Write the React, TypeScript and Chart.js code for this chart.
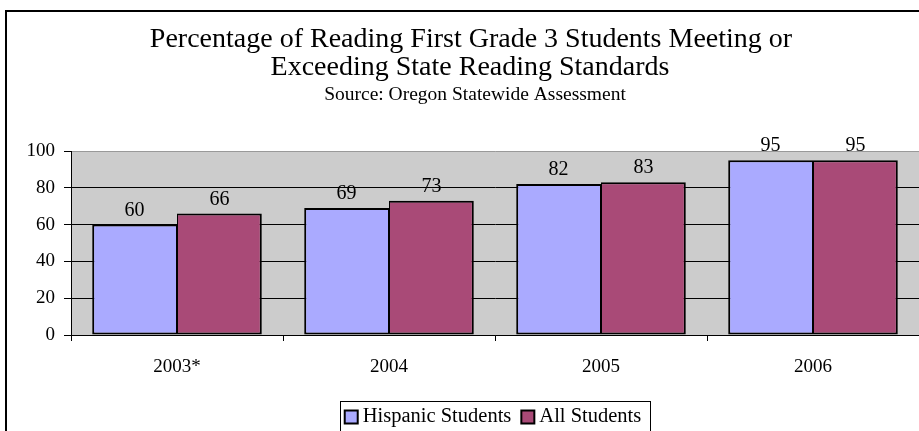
import React, { useEffect, useRef } from "react";
import { Chart, registerables } from "chart.js";

Chart.register(...registerables);

const categories = ["2003*", "2004", "2005", "2006"];
const hispanicValues = [60, 69, 82, 95];
const allValues = [66, 73, 83, 95];
const seriesLabels = ["Hispanic Students", "All Students"];
const titleLines = [
  "Percentage of Reading First Grade 3 Students Meeting or",
  "Exceeding State Reading Standards",
];
const subtitle = "Source: Oregon Statewide Assessment";

const SERIF = '"Liberation Serif", "Times New Roman", serif';
const COLORS = ["#aaaaff", "#a94a77"];

export default function App() {
  const ref = useRef<HTMLCanvasElement>(null);
  useEffect(() => {
    document.body.style.margin = "0";
    const canvas = ref.current!;
    const framePlugin = {
      id: "frame",
      beforeDraw(chart: any) {
        const { ctx, chartArea } = chart;
        ctx.save();
        ctx.fillStyle = "#ffffff";
        ctx.fillRect(0, 0, chart.width, chart.height);
        ctx.fillStyle = "#cccccc";
        ctx.fillRect(chartArea.left, chartArea.top, chartArea.right - chartArea.left, chartArea.bottom - chartArea.top);
        ctx.strokeStyle = "#000";
        ctx.lineWidth = 2;
        ctx.strokeRect(6, 11, chart.width + 20, chart.height + 20);
        ctx.restore();
      },
      afterDraw(chart: any) {
        const { ctx } = chart;
        ctx.save();
        ctx.fillStyle = "#000";
        ctx.textAlign = "center";
        ctx.textBaseline = "middle";
        ctx.font = `28px ${SERIF}`;
        ctx.fillText(titleLines[0], 471, 40);
        ctx.fillText(titleLines[1], 470, 68);
        ctx.font = `19.5px ${SERIF}`;
        ctx.fillText(subtitle, 475, 95);

        // legend
        ctx.font = `20.5px ${SERIF}`;
        const sq = 13;
        const gapSq = 5;
        const gapItem = 10;
        const padL = 5;
        const padR = 8;
        const widths = seriesLabels.map((l) => ctx.measureText(l).width);
        const total = padL + padR + widths.reduce((a, w) => a + sq + gapSq + w, 0) + gapItem * (seriesLabels.length - 1);
        const left = 494.5 - total / 2;
        ctx.strokeStyle = "#000";
        ctx.lineWidth = 1;
        ctx.strokeRect(Math.round(left) + 0.5, 401.5, Math.round(total), 60);
        let x = left + padL;
        const cy = 417;
        ctx.textAlign = "left";
        seriesLabels.forEach((l, i) => {
          ctx.fillStyle = COLORS[i];
          ctx.fillRect(x, cy - sq / 2, sq, sq);
          ctx.lineWidth = 2;
          ctx.strokeRect(x, cy - sq / 2, sq, sq);
          x += sq + gapSq;
          ctx.fillStyle = "#000";
          ctx.fillText(l, x, cy);
          x += widths[i] + gapItem;
        });
        ctx.restore();
      },
      afterDatasetsDraw(chart: any) {
        const { ctx } = chart;
        ctx.save();
        ctx.fillStyle = "#000";
        ctx.textAlign = "center";
        ctx.textBaseline = "alphabetic";
        ctx.font = `20px ${SERIF}`;
        chart.data.datasets.forEach((ds: any, di: number) => {
          const meta = chart.getDatasetMeta(di);
          meta.data.forEach((bar: any, i: number) => {
            ctx.fillText(String(ds.data[i]), bar.x, bar.y - 9);
          });
        });
        ctx.restore();
      },
    };

    const chart = new Chart(canvas, {
      type: "bar",
      data: {
        labels: categories,
        datasets: [
          {
            label: seriesLabels[0],
            data: hispanicValues,
            backgroundColor: COLORS[0],
            borderColor: "#000",
            borderWidth: { top: 2, left: 2, right: 1, bottom: 2 },
            borderSkipped: false,
            barPercentage: 1,
            categoryPercentage: 0.8,
          },
          {
            label: seriesLabels[1],
            data: allValues,
            backgroundColor: COLORS[1],
            borderColor: "#000",
            borderWidth: { top: 2, left: 1, right: 2, bottom: 2 },
            borderSkipped: false,
            barPercentage: 1,
            categoryPercentage: 0.8,
          },
        ],
      },
      options: {
        responsive: false,
        animation: false,
        devicePixelRatio: 1,
        layout: { padding: { top: 151, left: 0, right: 0, bottom: 0 } },
        plugins: {
          legend: { display: false },
          title: { display: false },
          tooltip: { enabled: false },
        },
        scales: {
          x: {
            offset: true,
            grid: {
              display: true,
              drawOnChartArea: false,
              offset: true,
              tickLength: 6,
              color: "#000",
              tickColor: "#000",
            },
            border: { color: "#000", width: 1 },
            ticks: { color: "#000", font: { family: SERIF, size: 19 }, padding: 15 },
            afterFit: (s: any) => {
              s.height = 96;
            },
          },
          y: {
            min: 0,
            max: 100,
            ticks: { stepSize: 20, color: "#000", font: { family: SERIF, size: 19 }, padding: 9 },
            grid: {
              color: (c: any) => (c.tick && c.tick.value === 100 ? "#999999" : "#000"),
              tickColor: "#000",
              tickLength: 7,
              lineWidth: 1,
            },
            border: { color: "#000", width: 1 },
            afterFit: (s: any) => {
              s.width = 71;
            },
          },
        },
      },
      plugins: [framePlugin],
    });
    return () => chart.destroy();
  }, []);
  return <canvas ref={ref} width={919} height={431} style={{ display: "block" }} />;
}
